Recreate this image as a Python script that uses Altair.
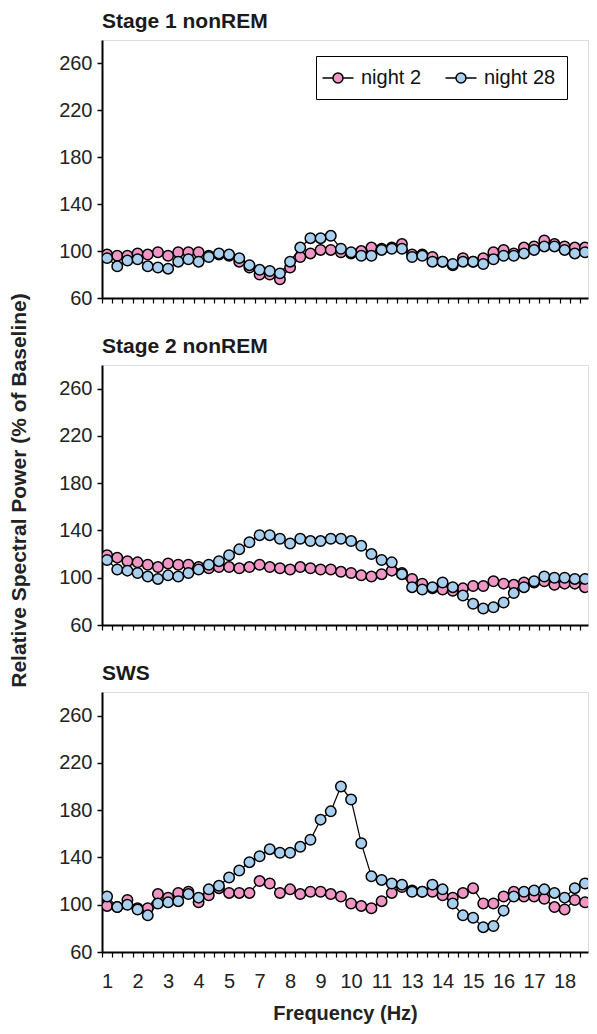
import json
import altair as alt
import pandas as pd

# ---------------- data ----------------
x_labels = ["1", "2", "3", "4", "5", "7", "8", "9", "10", "11", "13", "14", "15", "16", "17", "18"]
label_step = 3
n_bins = 48

panel_titles = ["Stage 1 nonREM", "Stage 2 nonREM", "SWS"]
series_names = ["night 2", "night 28"]
series_colors = ["#F096C4", "#A9CFEE"]
y_ticks = [60, 100, 140, 180, 220, 260]

stage1_night2 = [97, 96, 96, 98, 97, 99, 96, 99, 99, 99,
                 96, 97, 96, 91, 86, 80, 80, 76, 86, 95,
                 98, 101, 101, 99, 98, 100, 103, 102, 103, 106,
                 97, 97, 95, 91, 88, 94, 91, 94, 99, 101,
                 98, 103, 104, 109, 106, 104, 103, 103]
stage1_night28 = [94, 87, 92, 93, 87, 86, 85, 91, 93, 91,
                  95, 98, 97, 94, 88, 84, 83, 81, 91, 103,
                  111, 111, 113, 102, 99, 96, 96, 101, 102, 102,
                  95, 96, 91, 91, 89, 91, 91, 89, 93, 96,
                  96, 98, 101, 104, 104, 101, 98, 99]
stage2_night2 = [119, 117, 114, 113, 111, 109, 112, 111, 111, 109,
                 108, 109, 109, 108, 109, 111, 109, 108, 107, 109,
                 108, 107, 107, 105, 104, 102, 101, 103, 106, 104,
                 99, 95, 91, 90, 89, 91, 93, 93, 97, 95,
                 94, 96, 96, 97, 94, 95, 95, 92]
stage2_night28 = [115, 107, 106, 104, 101, 99, 102, 101, 104, 107,
                  111, 114, 119, 124, 130, 136, 136, 133, 129, 133,
                  131, 131, 133, 133, 131, 127, 120, 115, 113, 103,
                  92, 90, 92, 96, 92, 85, 78, 74, 75, 79,
                  87, 92, 97, 101, 100, 100, 99, 99]
sws_night2 = [99, 98, 104, 97, 97, 109, 106, 110, 111, 102,
              108, 114, 110, 110, 110, 120, 118, 110, 113, 109,
              111, 111, 109, 107, 101, 99, 97, 103, 110, 115,
              112, 111, 111, 108, 106, 110, 114, 101, 101, 107,
              111, 107, 107, 105, 98, 96, 104, 102]
sws_night28 = [107, 98, 100, 96, 91, 101, 102, 103, 109, 106,
               113, 116, 123, 129, 136, 141, 147, 144, 144, 149,
               155, 172, 179, 200, 189, 152, 124, 121, 118, 117,
               111, 111, 117, 113, 101, 91, 89, 81, 82, 95,
               107, 111, 112, 113, 110, 106, 114, 118]

panel_series = [
    (stage1_night2, stage1_night28),
    (stage2_night2, stage2_night28),
    (sws_night2, sws_night28),
]

rows = []
for p, (a, b) in enumerate(panel_series):
    for name, vals in zip(series_names, (a, b)):
        for i, v in enumerate(vals):
            rows.append({"panel": p, "series": name, "idx": i, "value": v})
df = pd.DataFrame(rows)

# ---------------- styling ----------------
FONT = "Liberation Sans"
X_MAX = 47.3  # the original figure is cut off just after the last bin
boundaries = [i - 0.5 for i in range(n_bins + 1) if i - 0.5 <= X_MAX]
label_expr = (
    f"((datum.value + 0.5) % {label_step} == 0) ? "
    f"(({json.dumps(x_labels)})[round((datum.value + 0.5) / {label_step})] || '') : ''"
)

W = 486
heights = [258, 260, 260]
SPACING = 67

# legend symbol: a short line with a circle in the middle
legend_symbol = ("M-1.55,0H-0.5M0.5,0H1.55"
                 "M0.5,0A0.5,0.5,0,1,1,-0.5,0A0.5,0.5,0,1,1,0.5,0Z")


def make_panel(p):
    sub = df[df["panel"] == p]
    is_bottom = p == 2
    x_axis = alt.Axis(
        values=boundaries,
        labels=is_bottom,
        labelExpr=label_expr,
        labelOffset=5,
        labelFlush=False,
        labelOverlap=False,
        labelFontSize=20,
        labelFont=FONT,
        labelColor="#222",
        labelPadding=14,
        tickSize=5,
        tickColor="black",
        tickWidth=1.2,
        domainColor="black",
        domainWidth=2,
        grid=False,
        title="Frequency (Hz)" if is_bottom else None,
        titleFont=FONT,
        titleFontSize=20,
        titleFontWeight="bold",
        titleColor="#222",
        titlePadding=12,
    )
    y_axis_kwargs = dict(
        values=y_ticks,
        labelFontSize=20,
        labelFont=FONT,
        labelColor="#222",
        labelPadding=5,
        tickSize=5,
        tickColor="black",
        tickWidth=1.5,
        domainColor="black",
        domainWidth=2,
        grid=False,
    )
    if p == 0:
        # one axis title shared by the three panels, centred on the middle one
        y_axis = alt.Axis(
            title="Relative Spectral Power (% of Baseline)",
            titleFont=FONT,
            titleFontSize=21,
            titleFontWeight="bold",
            titleColor="#222",
            titlePadding=29,
            titleY=450,
            **y_axis_kwargs,
        )
    else:
        y_axis = alt.Axis(title=None, **y_axis_kwargs)

    x = alt.X("idx:Q", scale=alt.Scale(domain=[-0.5, X_MAX], nice=False, zero=False), axis=x_axis)
    y = alt.Y("value:Q", scale=alt.Scale(domain=[60, 280], nice=False, zero=False), axis=y_axis)

    if p == 0:
        legend = alt.Legend(
            title=None,
            orient="none",
            legendX=214,
            legendY=16,
            direction="horizontal",
            symbolType=legend_symbol,
            symbolSize=400,
            symbolStrokeColor="black",
            symbolStrokeWidth=1.5,
            labelFont=FONT,
            labelFontSize=20,
            labelColor="#111",
            labelOffset=12,
            columnPadding=20,
            padding=11,
            strokeColor="black",
            fillColor="white",
            cornerRadius=0,
        )
    else:
        legend = None

    fill = alt.Fill(
        "series:N",
        scale=alt.Scale(domain=series_names, range=series_colors),
        legend=legend,
        sort=series_names,
    )

    base = alt.Chart(sub)
    lines = base.mark_line(color="black", strokeWidth=1.2, clip=True).encode(
        x=x, y=y, detail="series:N", order="idx:Q"
    )
    points = base.mark_point(
        filled=True, size=110, stroke="black", strokeWidth=1.5, opacity=1, clip=True
    ).encode(x=x, y=y, fill=fill)

    return alt.layer(lines, points).properties(
        width=W,
        height=heights[p],
        title=alt.TitleParams(
            panel_titles[p],
            anchor="start",
            frame="group",
            font=FONT,
            fontSize=21,
            fontWeight="bold",
            color="#1a1a1a",
            offset=8,
        ),
    )


chart = (
    alt.vconcat(*[make_panel(p) for p in range(3)], spacing=SPACING, bounds="flush")
    .resolve_scale(fill="independent")
    .resolve_legend(fill="independent")
    .properties(padding={"top": 2, "left": 0, "right": 0, "bottom": 0}, background="white")
    .configure_view(stroke="#222", strokeWidth=1.5)
    .configure(font=FONT)
)

chart.save("out.html", embed_options={"renderer": "svg", "actions": False})
